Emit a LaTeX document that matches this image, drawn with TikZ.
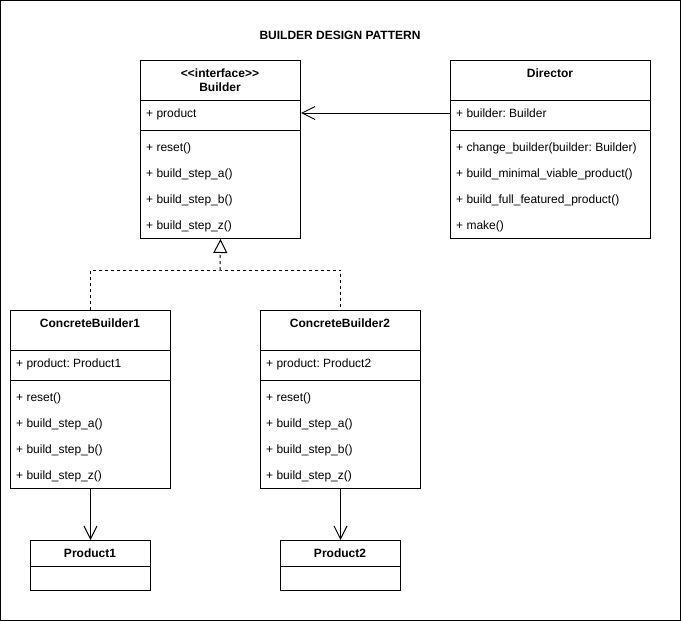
\documentclass[tikz,border=0pt]{standalone}
\usepackage{fontspec}
\setmainfont{Liberation Sans}
\usetikzlibrary{arrows.meta}
\frenchspacing

\tikzset{
  uml/.style={draw, line width=1pt, rectangle, inner sep=0pt, anchor=north west},
  member/.style={anchor=west, inner sep=0pt, text height=10.5pt, text depth=1.5pt, font=\fontsize{12}{14}\selectfont},
  heading/.style={anchor=center, inner sep=0pt, text height=10.5pt, text depth=1.5pt, font=\fontsize{12}{14}\selectfont\bfseries, align=center},
  rule/.style={line width=1pt},
  conn/.style={line width=1pt},
  openhead/.style={-{Straight Barb[length=13pt,width=13pt,line width=1pt]}},
  realize/.style={line width=1pt, dash pattern=on 3pt off 3pt},
  inherit/.style={-{Triangle[open,length=14pt,width=14pt,line width=1pt,fill=white]}},
}

\begin{document}
\begin{tikzpicture}[x=1pt,y=-1pt]
  % frame
  \draw[line width=1pt] (0.5,0.5) rectangle (680.5,620.5);
  \useasboundingbox (0,0) rectangle (681,621);

  \node[heading] (title) at (340,35) {BUILDER DESIGN PATTERN};

  % Builder interface
  \node[uml, minimum width=160pt, minimum height=178pt] (builder) at (140,60) {};
  \node[heading] (builderhead1) at (220,73) {<\kern0pt<interface>\kern0pt>};
  \node[heading] (builderhead2) at (220,87) {Builder};
  \draw[rule] (140,100) -- (300,100);
  \draw[rule] (140,130) -- (300,130);
  \node[member] (bprod) at (146,113) {+ product};
  \node[member] (breset) at (146,147) {+ reset()};
  \node[member] (ba) at (146,173) {+ build\_step\_a()};
  \node[member] (bb) at (146,199) {+ build\_step\_b()};
  \node[member] (bz) at (146,225) {+ build\_step\_z()};

  % Director
  \node[uml, minimum width=200pt, minimum height=178pt] (director) at (450,60) {};
  \node[heading] (dirhead) at (550,73) {Director};
  \draw[rule] (450,100) -- (650,100);
  \draw[rule] (450,130) -- (650,130);
  \node[member] (dattr) at (456,113) {+ builder: Builder};
  \node[member] (dchange) at (456,147) {+ change\_builder(builder: Builder)};
  \node[member] (dmin) at (456,173) {+ build\_minimal\_viable\_product()};
  \node[member] (dfull) at (456,199) {+ build\_full\_featured\_product()};
  \node[member] (dmake) at (456,225) {+ make()};

  % ConcreteBuilder1
  \node[uml, minimum width=160pt, minimum height=178pt] (cb1) at (10,310) {};
  \node[heading] (cb1head) at (90,323) {ConcreteBuilder1};
  \draw[rule] (10,350) -- (170,350);
  \draw[rule] (10,380) -- (170,380);
  \node[member] (cb1prod) at (16,363) {+ product: Product1};
  \node[member] (cb1reset) at (16,397) {+ reset()};
  \node[member] (cb1a) at (16,423) {+ build\_step\_a()};
  \node[member] (cb1b) at (16,449) {+ build\_step\_b()};
  \node[member] (cb1z) at (16,475) {+ build\_step\_z()};

  % ConcreteBuilder2
  \node[uml, minimum width=160pt, minimum height=178pt] (cb2) at (260,310) {};
  \node[heading] (cb2head) at (340,323) {ConcreteBuilder2};
  \draw[rule] (260,350) -- (420,350);
  \draw[rule] (260,380) -- (420,380);
  \node[member] (cb2prod) at (266,363) {+ product: Product2};
  \node[member] (cb2reset) at (266,397) {+ reset()};
  \node[member] (cb2a) at (266,423) {+ build\_step\_a()};
  \node[member] (cb2b) at (266,449) {+ build\_step\_b()};
  \node[member] (cb2z) at (266,475) {+ build\_step\_z()};

  % Products
  \node[uml, minimum width=120pt, minimum height=50pt] (p1) at (30,540) {};
  \node[heading] (p1head) at (90,553) {Product1};
  \draw[rule] (30,566) -- (150,566);
  \node[uml, minimum width=120pt, minimum height=50pt] (p2) at (280,540) {};
  \node[heading] (p2head) at (340,553) {Product2};
  \draw[rule] (280,566) -- (400,566);

  % relations
  \draw[conn, openhead] (director.west |- dattr) -- (builder.east |- dattr);
  \coordinate (join) at (220,270);
  \draw[realize] (cb1.north) |- (join) -| (cb2.north);
  \draw[realize, inherit] (join) -- (builder.south);
  \draw[conn, openhead] (cb1.south) -- (p1.north);
  \draw[conn, openhead] (cb2.south) -- (p2.north);
\end{tikzpicture}
\end{document}
